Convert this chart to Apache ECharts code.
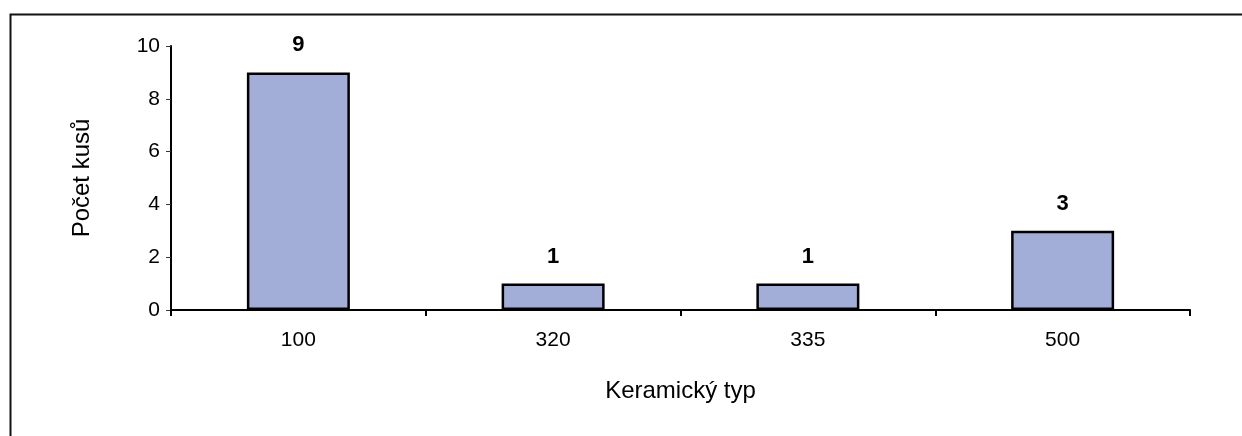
<!DOCTYPE html>
<html><head><meta charset="utf-8">
<script src="https://cdn.jsdelivr.net/npm/echarts@6/dist/echarts.min.js"></script>
<style>html,body{margin:0;padding:0;background:#fff}#c{width:1242px;height:436px}</style>
</head><body><div id="c"></div>
<script>
const categories = ['100', '320', '335', '500'];
const counts = [9, 1, 1, 3];
const yTicks = [0, 2, 4, 6, 8, 10];

const chart = echarts.init(document.getElementById('c'), null, {renderer: 'canvas'});
const font = 'Arial, "Liberation Sans", sans-serif';
chart.setOption({
  animation: false,
  backgroundColor: '#fff',
  graphic: [{
    type: 'rect', left: 8, top: 12, shape: {width: 1240, height: 430},
    style: {fill: 'none', stroke: '#111', lineWidth: 2}, silent: true
  }],
  grid: {left: 171, top: 46, right: 52, bottom: 126},
  xAxis: {
    type: 'category', data: categories,
    name: 'Keramický typ', nameLocation: 'middle', nameGap: 69,
    nameTextStyle: {fontFamily: font, fontSize: 24, color: '#000'},
    axisLine: {lineStyle: {color: '#000', width: 2}},
    axisTick: {show: true, length: 6, lineStyle: {color: '#000', width: 2}},
    axisLabel: {fontFamily: font, fontSize: 21, color: '#000', margin: 20}
  },
  yAxis: {
    type: 'value', min: yTicks[0], max: yTicks[yTicks.length - 1], interval: 2,
    name: 'Počet kusů', nameLocation: 'middle', nameGap: 77, nameRotate: 90,
    nameTextStyle: {fontFamily: font, fontSize: 24, color: '#000'},
    splitLine: {show: false},
    axisLine: {show: true, lineStyle: {color: '#000', width: 2}},
    axisTick: {show: true, length: 5, lineStyle: {color: '#333', width: 1}},
    axisLabel: {fontFamily: font, fontSize: 21, color: '#000', margin: 11}
  },
  series: [{
    type: 'bar', data: counts, barWidth: 103,
    itemStyle: {color: '#a3aed8', borderColor: '#000', borderWidth: 2.5},
    label: {show: true, position: 'top', distance: 16, fontFamily: font, fontSize: 22, fontWeight: 'bold', color: '#000'}
  }]
});
</script></body></html>
